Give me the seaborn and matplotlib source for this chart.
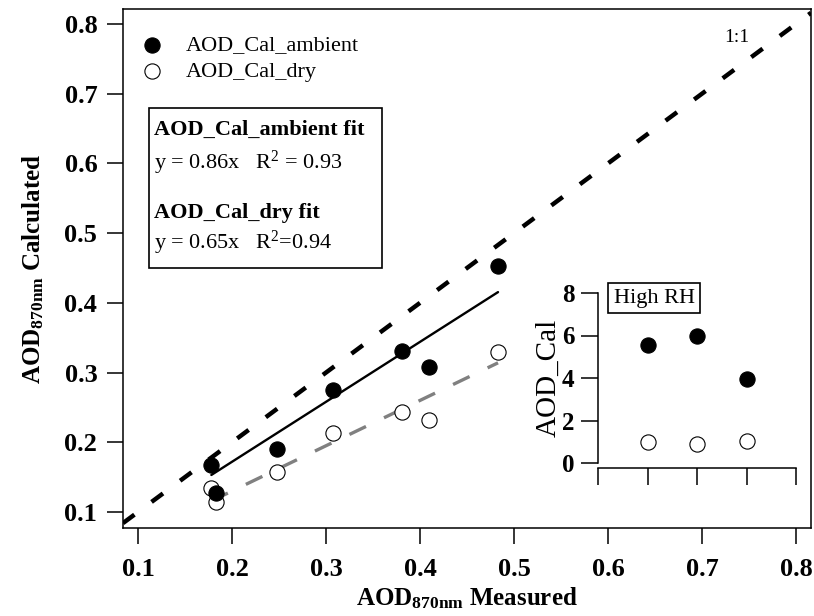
import matplotlib
matplotlib.use("Agg")
import matplotlib.pyplot as plt
import seaborn as sns
import pandas as pd
from matplotlib.patches import Rectangle

# ---------------- data ----------------
aod_measured = [0.178, 0.183, 0.248, 0.307, 0.381, 0.410, 0.483]
aod_cal_ambient = [0.167, 0.127, 0.190, 0.275, 0.331, 0.308, 0.453]
aod_cal_dry = [0.135, 0.114, 0.158, 0.213, 0.244, 0.232, 0.330]

series_labels = ["AOD_Cal_ambient", "AOD_Cal_dry"]
fit_titles = ["AOD_Cal_ambient fit", "AOD_Cal_dry fit"]
fit_slopes = [0.86, 0.65]
fit_equations = [r"y = 0.86x   R$^2$ = 0.93", r"y = 0.65x   R$^2$=0.94"]

main_ticks = [0.1, 0.2, 0.3, 0.4, 0.5, 0.6, 0.7, 0.8]

high_rh_case = [1, 2, 3]
high_rh_ambient = [5.55, 5.98, 3.95]
high_rh_dry = [0.99, 0.89, 1.03]
inset_yticks = [0, 2, 4, 6, 8]
inset_xticks = [0, 1, 2, 3, 4]

# ---------------- style ----------------
sns.set_theme(style="ticks")
plt.rcParams["font.family"] = ["Liberation Serif", "DejaVu Serif"]
plt.rcParams["mathtext.fontset"] = "custom"
plt.rcParams["mathtext.rm"] = "Liberation Serif"
plt.rcParams["mathtext.it"] = "Liberation Serif:italic"
plt.rcParams["mathtext.bf"] = "Liberation Serif:bold"
plt.rcParams["axes.edgecolor"] = "black"
plt.rcParams["xtick.color"] = "black"
plt.rcParams["ytick.color"] = "black"
plt.rcParams["text.color"] = "black"
plt.rcParams["axes.labelcolor"] = "black"

W, H = 814, 616
fig = plt.figure(figsize=(W / 100, H / 100), dpi=100)
fig.patch.set_facecolor("white")

ax = fig.add_axes([123 / W, (H - 528) / H, 688 / W, 519 / H])
ax.set_facecolor("white")

df = pd.DataFrame({"measured": aod_measured,
                   "ambient": aod_cal_ambient,
                   "dry": aod_cal_dry})

# 1:1 line
ax.axline((0, 0), slope=1, color="black", lw=3.2, dashes=(3.2, 4.8), zorder=1)

# fit lines
fit_x = [min(aod_measured), max(aod_measured)]
ax.plot(fit_x, [fit_slopes[0] * x for x in fit_x], color="black", lw=1.7, zorder=2)
ax.plot(fit_x, [fit_slopes[1] * x for x in fit_x], color="#808080", lw=2.4,
        dashes=(5.5, 6.0), zorder=2)

# points
sns.scatterplot(data=df, x="measured", y="ambient", ax=ax, color="black",
                edgecolor="black", linewidth=0.8, s=120, zorder=4,
                label=series_labels[0])
sns.scatterplot(data=df, x="measured", y="dry", ax=ax, color="white",
                edgecolor="black", linewidth=0.8, s=120, zorder=3,
                label=series_labels[1])

ax.set_xlim(0.084, 0.816)
ax.set_ylim(0.077, 0.8215)
ax.set_xticks(main_ticks)
ax.set_yticks(main_ticks)
ax.set_xticklabels([f"{t:.1f}" for t in main_ticks])
ax.set_yticklabels([f"{t:.1f}" for t in main_ticks])
ax.tick_params(axis="both", direction="out", length=11.5, width=1.1,
               labelsize=19, top=False, right=False)
ax.tick_params(axis="y", pad=7)
ax.tick_params(axis="x", pad=10)
for lab in ax.get_xticklabels() + ax.get_yticklabels():
    lab.set_fontweight("bold")
for sp in ax.spines.values():
    sp.set_visible(True)
    sp.set_linewidth(1.1)
    sp.set_color("black")

ax.set_xlabel(r"AOD$_{\mathbf{870nm}}$ Measured", fontsize=18,
              fontweight="bold", labelpad=3)
ax.set_ylabel(r"AOD$_{\mathbf{870nm}}$ Calculated", fontsize=18,
              fontweight="bold", labelpad=13)

leg = ax.legend(loc="upper left", bbox_to_anchor=(0.026, 0.95),
                frameon=False, fontsize=16, handlelength=1.0,
                handletextpad=1.0, labelspacing=0.25, borderaxespad=0,
                borderpad=0)

# fit box
ax.add_patch(Rectangle((0.0378, 0.501), 0.338, 0.308, transform=ax.transAxes,
                       fill=False, lw=1.2, edgecolor="black", zorder=5))
ax.text(0.045, 0.767, fit_titles[0], transform=ax.transAxes, fontsize=16,
        fontweight="bold", va="center", ha="left")
ax.text(0.045, 0.703, fit_equations[0], transform=ax.transAxes, fontsize=16,
        va="center", ha="left")
ax.text(0.045, 0.607, fit_titles[1], transform=ax.transAxes, fontsize=16,
        fontweight="bold", va="center", ha="left")
ax.text(0.045, 0.549, fit_equations[1], transform=ax.transAxes, fontsize=16,
        va="center", ha="left")

ax.text(0.892, 0.946, "1:1", transform=ax.transAxes, fontsize=14,
        va="center", ha="center")

# ---------------- inset ----------------
axi = fig.add_axes([598 / W, (H - 463) / H, 198 / W, 170 / H])
axi.patch.set_alpha(0)
sns.scatterplot(x=high_rh_case, y=high_rh_ambient, ax=axi, color="black",
                edgecolor="black", linewidth=0.8, s=120, zorder=4)
sns.scatterplot(x=high_rh_case, y=high_rh_dry, ax=axi, color="white",
                edgecolor="black", linewidth=0.8, s=120, zorder=3)
axi.set_xlim(0, 4)
axi.set_ylim(0, 8)
axi.set_xticks(inset_xticks)
axi.set_xticklabels([])
axi.set_yticks(inset_yticks)
axi.set_yticklabels([str(t) for t in inset_yticks])
axi.tick_params(axis="both", direction="out", length=12, width=1.1,
                labelsize=18)
axi.tick_params(axis="y", pad=5)
for lab in axi.get_yticklabels():
    lab.set_fontweight("bold")
axi.spines["top"].set_visible(False)
axi.spines["right"].set_visible(False)
axi.spines["bottom"].set_position(("outward", 3.6))
for sp in ["left", "bottom"]:
    axi.spines[sp].set_linewidth(1.1)
    axi.spines[sp].set_color("black")
axi.set_xlabel("")
axi.set_ylabel("AOD_Cal", fontsize=21, labelpad=0)
axi.text(0.283, 0.97, "High RH", transform=axi.transAxes, fontsize=16,
         ha="center", va="center",
         bbox=dict(boxstyle="square,pad=0.25", fc="white", ec="black", lw=1.2))

fig.savefig("out.png", dpi=100, facecolor="white")
